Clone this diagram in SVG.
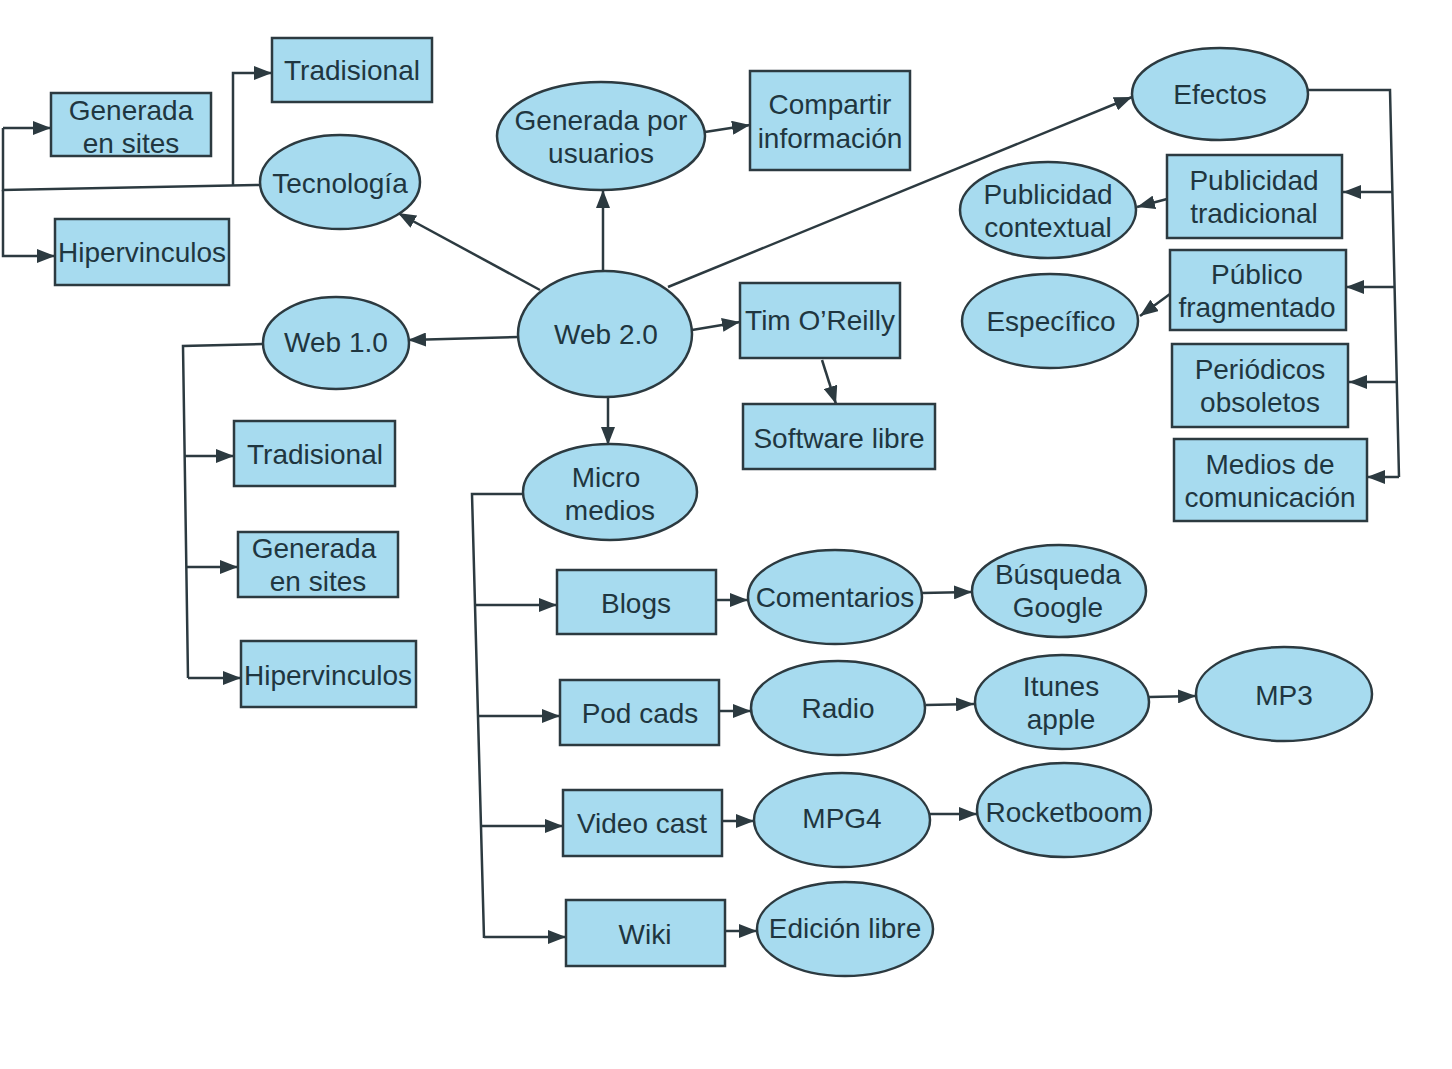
<svg xmlns="http://www.w3.org/2000/svg" width="1452" height="1069" viewBox="0 0 1452 1069">
<defs>
<marker id="ah" viewBox="0 0 18 14" refX="18" refY="7" markerWidth="18" markerHeight="14" markerUnits="userSpaceOnUse" orient="auto">
<path d="M0,0 L18,7 L0,14 Z" fill="#2c3a40"/>
</marker>
<style>
.n{fill:#a7dbef;stroke:#2c3a40;stroke-width:2.5}
.t{font-family:"Liberation Sans",Arial,sans-serif;font-size:28px;fill:#1f3640;text-anchor:middle}
.c{fill:none;stroke:#2c3a40;stroke-width:2.5}
.a{marker-end:url(#ah)}
</style>
</defs>
<rect width="1452" height="1069" fill="#ffffff"/>

<g id="connectors">
<path class="c" d="M260,185 L3,190 L3,128"/>
<path class="c a" d="M3,128 L51,128"/>
<path class="c a" d="M3,190 L3,256 L55,256"/>
<path class="c a" d="M233,186 L233,73 L272,73"/>
<path class="c a" d="M540,290 L398,213"/>
<path class="c a" d="M603,270 L603,190"/>
<path class="c a" d="M705,132 L750,125"/>
<path class="c a" d="M518,337 L408,340"/>
<path class="c a" d="M668,287 L1132,97"/>
<path class="c a" d="M692,330 L740,322"/>
<path class="c a" d="M822,360 L836,404"/>
<path class="c a" d="M608,397 L608,445"/>
<path class="c" d="M263,344 L183,346 L188,678"/>
<path class="c a" d="M185,456 L234,456"/>
<path class="c a" d="M187,567 L238,567"/>
<path class="c a" d="M188,678 L241,678"/>
<path class="c" d="M522,494 L472,494 L484,938"/>
<path class="c a" d="M475,605 L557,605"/>
<path class="c a" d="M478,716 L560,716"/>
<path class="c a" d="M481,826 L563,826"/>
<path class="c a" d="M484,937 L566,937"/>
<path class="c a" d="M716,600 L748,600"/>
<path class="c a" d="M922,593 L972,592"/>
<path class="c a" d="M719,711 L751,711"/>
<path class="c a" d="M926,705 L974,704"/>
<path class="c a" d="M1149,697 L1196,696"/>
<path class="c a" d="M722,821 L754,821"/>
<path class="c a" d="M930,814 L977,814"/>
<path class="c a" d="M725,931 L757,931"/>
<path class="c" d="M1308,90 L1390,90 L1399,477"/>
<path class="c a" d="M1392,192 L1343,192"/>
<path class="c a" d="M1394,287 L1346,287"/>
<path class="c a" d="M1396,382 L1349,382"/>
<path class="c a" d="M1399,477 L1367,477"/>
<path class="c a" d="M1167,199 L1137,207"/>
<path class="c a" d="M1170,294 L1140,316"/>
</g>

<g id="tradisional-top"><rect class="n" x="272" y="38" width="160" height="64"/><text class="t" x="352" y="80">Tradisional</text></g>
<g id="generada-sites-top"><rect class="n" x="51" y="93" width="160" height="63"/><text class="t" x="131" y="120">Generada</text><text class="t" x="131" y="153">en sites</text></g>
<g id="tecnologia"><ellipse class="n" cx="340" cy="182" rx="80" ry="47"/><text class="t" x="340" y="193">Tecnología</text></g>
<g id="hipervinculos-top"><rect class="n" x="55" y="219" width="174" height="66"/><text class="t" x="142" y="262">Hipervinculos</text></g>
<g id="generada-usuarios"><ellipse class="n" cx="601" cy="136" rx="104" ry="54"/><text class="t" x="601" y="130">Generada por</text><text class="t" x="601" y="163">usuarios</text></g>
<g id="compartir"><rect class="n" x="750" y="71" width="160" height="99"/><text class="t" x="830" y="114">Compartir</text><text class="t" x="830" y="148">información</text></g>
<g id="web20"><ellipse class="n" cx="605" cy="334" rx="87" ry="63"/><text class="t" x="606" y="344">Web 2.0</text></g>
<g id="web10"><ellipse class="n" cx="336" cy="343" rx="73" ry="46"/><text class="t" x="336" y="352">Web 1.0</text></g>
<g id="tim"><rect class="n" x="740" y="283" width="160" height="75"/><text class="t" x="820" y="330">Tim O’Reilly</text></g>
<g id="software"><rect class="n" x="743" y="404" width="192" height="65"/><text class="t" x="839" y="448">Software libre</text></g>
<g id="micromedios"><ellipse class="n" cx="610" cy="492" rx="87" ry="48"/><text class="t" x="606" y="487">Micro</text><text class="t" x="610" y="520">medios</text></g>
<g id="tradisional-left"><rect class="n" x="234" y="421" width="161" height="65"/><text class="t" x="315" y="464">Tradisional</text></g>
<g id="generada-sites-left"><rect class="n" x="238" y="532" width="160" height="65"/><text class="t" x="314" y="558">Generada</text><text class="t" x="318" y="591">en sites</text></g>
<g id="hipervinculos-left"><rect class="n" x="241" y="641" width="175" height="66"/><text class="t" x="328" y="685">Hipervinculos</text></g>
<g id="blogs"><rect class="n" x="557" y="570" width="159" height="64"/><text class="t" x="636" y="613">Blogs</text></g>
<g id="podcads"><rect class="n" x="560" y="680" width="159" height="65"/><text class="t" x="640" y="723">Pod cads</text></g>
<g id="videocast"><rect class="n" x="563" y="790" width="159" height="66"/><text class="t" x="642" y="833">Video cast</text></g>
<g id="wiki"><rect class="n" x="566" y="900" width="159" height="66"/><text class="t" x="645" y="944">Wiki</text></g>
<g id="comentarios"><ellipse class="n" cx="835" cy="597" rx="87" ry="47"/><text class="t" x="835" y="607">Comentarios</text></g>
<g id="radio"><ellipse class="n" cx="838" cy="708" rx="87" ry="47"/><text class="t" x="838" y="718">Radio</text></g>
<g id="mpg4"><ellipse class="n" cx="842" cy="820" rx="88" ry="47"/><text class="t" x="842" y="828">MPG4</text></g>
<g id="edicion"><ellipse class="n" cx="845" cy="929" rx="88" ry="47"/><text class="t" x="845" y="938">Edición libre</text></g>
<g id="busqueda"><ellipse class="n" cx="1059" cy="591" rx="87" ry="46"/><text class="t" x="1058" y="584">Búsqueda</text><text class="t" x="1058" y="617">Google</text></g>
<g id="itunes"><ellipse class="n" cx="1062" cy="702" rx="87" ry="47"/><text class="t" x="1061" y="696">Itunes</text><text class="t" x="1061" y="729">apple</text></g>
<g id="mp3"><ellipse class="n" cx="1284" cy="694" rx="88" ry="47"/><text class="t" x="1284" y="705">MP3</text></g>
<g id="rocketboom"><ellipse class="n" cx="1064" cy="810" rx="87" ry="47"/><text class="t" x="1064" y="822">Rocketboom</text></g>
<g id="efectos"><ellipse class="n" cx="1220" cy="94" rx="88" ry="46"/><text class="t" x="1220" y="104">Efectos</text></g>
<g id="pub-contextual"><ellipse class="n" cx="1048" cy="210" rx="88" ry="48"/><text class="t" x="1048" y="204">Publicidad</text><text class="t" x="1048" y="237">contextual</text></g>
<g id="especifico"><ellipse class="n" cx="1050" cy="321" rx="88" ry="47"/><text class="t" x="1051" y="331">Específico</text></g>
<g id="pub-tradicional"><rect class="n" x="1167" y="155" width="175" height="83"/><text class="t" x="1254" y="190">Publicidad</text><text class="t" x="1254" y="223">tradicional</text></g>
<g id="publico-frag"><rect class="n" x="1170" y="250" width="176" height="80"/><text class="t" x="1257" y="284">Público</text><text class="t" x="1257" y="317">fragmentado</text></g>
<g id="periodicos"><rect class="n" x="1172" y="344" width="176" height="83"/><text class="t" x="1260" y="379">Periódicos</text><text class="t" x="1260" y="412">obsoletos</text></g>
<g id="medios"><rect class="n" x="1174" y="439" width="193" height="82"/><text class="t" x="1270" y="474">Medios de</text><text class="t" x="1270" y="507">comunicación</text></g>
</svg>
